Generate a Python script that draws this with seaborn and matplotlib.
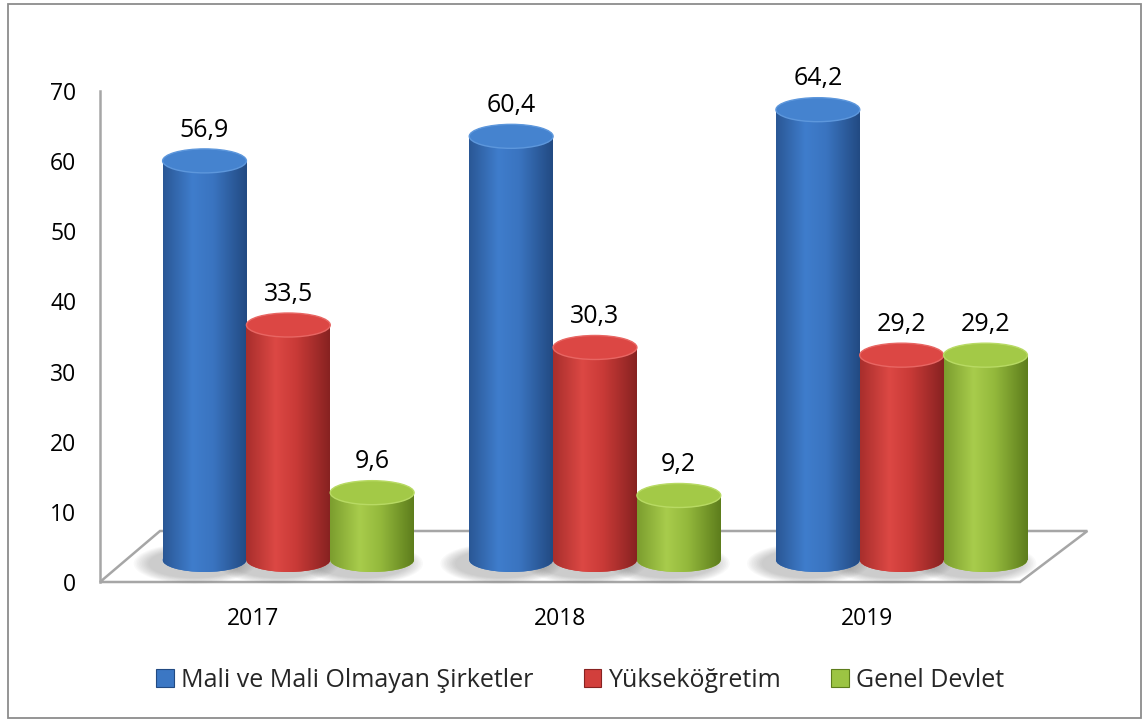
import numpy as np
import pandas as pd
import matplotlib
matplotlib.use("Agg")
import matplotlib.pyplot as plt
import seaborn as sns
from matplotlib.patches import Ellipse, Polygon, Rectangle, Patch
from matplotlib.transforms import ScaledTranslation
from matplotlib.colors import LinearSegmentedColormap

# ---- data ----
years = ["2017", "2018", "2019"]
series = ["Mali ve Mali Olmayan Şirketler", "Yükseköğretim", "Genel Devlet"]
sirketler = [56.9, 60.4, 64.2]
yuksekogretim = [33.5, 30.3, 29.2]
genel_devlet = [9.6, 9.2, 29.2]
yticks = [0, 10, 20, 30, 40, 50, 60, 70]

df = pd.DataFrame({
    "Yıl": years * 3,
    "Sektör": [s for s in series for _ in years],
    "Değer": sirketler + yuksekogretim + genel_devlet,
})

# ---- style ----
sns.set_theme(style="white")
plt.rcParams["font.family"] = ["Open Sans", "DejaVu Sans"]

mid_colors = ["#3b77c4", "#d23f3c", "#9cc443"]
grad_stops = [
    ["#2a5795", "#3f7dcc", "#3a74c0", "#224a82"],
    ["#a82e2c", "#dc4844", "#c93a37", "#872221"],
    ["#7b9d2e", "#a8cc4c", "#94b93c", "#5d7d1c"],
]
top_colors = ["#4583cf", "#dc4744", "#a3c947"]
top_edges = ["#5d97dc", "#e86663", "#b8da64"]
cmaps = [LinearSegmentedColormap.from_list(f"c{i}", list(zip([0, 0.35, 0.6, 1], g)))
         for i, g in enumerate(grad_stops)]

W, H, DPI = 1147, 722, 100
fig = plt.figure(figsize=(W / DPI, H / DPI), dpi=DPI)
ax = fig.add_axes([100 / W, 1 - 582 / H, 920 / W, 491 / H])

sns.barplot(data=df, x="Yıl", y="Değer", hue="Sektör", order=years,
            hue_order=series, palette=mid_colors, width=0.82, saturation=1,
            ax=ax, legend=False, edgecolor="none", linewidth=0, errorbar=None)

ax.set_xlim(-0.5, 2.5)
ax.set_ylim(0, 70)

px = 70 / 491.0           # data units per pixel (y)
eh = 24 * px              # ellipse height in data units
off = ax.transData + ScaledTranslation(35 / DPI, 22 / DPI, fig.dpi_scale_trans)
grad = np.linspace(0, 1, 256).reshape(1, -1)

for i, cont in enumerate(ax.containers):
    for bar in cont:
        x0, w, h = bar.get_x(), bar.get_width(), bar.get_height()
        xc = x0 + w / 2
        # soft floor shadow
        n = 10
        for k in range(n):
            f = k / (n - 1)
            sh = Ellipse((xc - 10 * w / 84, -0.5), w * (1.45 - 0.35 * f),
                         eh * (1.7 - 0.5 * f), transform=off,
                         facecolor="#7a7a7a", edgecolor="none", alpha=0.045,
                         zorder=1.5, clip_on=False)
            ax.add_patch(sh)
        # bottom ellipse
        bot = Ellipse((xc, 0), w, eh, transform=off, facecolor=mid_colors[i],
                      edgecolor="none", zorder=2.5, clip_on=False)
        ax.add_patch(bot)
        imb = ax.imshow(grad, cmap=cmaps[i], extent=(x0, x0 + w, -eh, eh),
                        aspect="auto", transform=off, zorder=2.6,
                        interpolation="bicubic")
        imb.set_clip_path(bot)
        imb.set_clip_box(fig.bbox)
        # body
        bar.set_transform(off)
        bar.set_zorder(3)
        bar.set_clip_on(False)
        imr = ax.imshow(grad, cmap=cmaps[i], extent=(x0, x0 + w, 0, h),
                        aspect="auto", transform=off, zorder=3.1,
                        interpolation="bicubic")
        imr.set_clip_path(bar)
        imr.set_clip_box(fig.bbox)
        # top ellipse
        top = Ellipse((xc, h), w, eh, transform=off, facecolor=top_colors[i],
                      edgecolor=top_edges[i], linewidth=1.0, zorder=3.5,
                      clip_on=False)
        ax.add_patch(top)
        # value label
        ax.text(xc, h + 4.4, f"{h:.1f}".replace(".", ","), transform=off,
                ha="center", va="center", fontsize=18, color="black", zorder=5)

ax.set_xlim(-0.5, 2.5)
ax.set_ylim(0, 70)
ax.set_yticks(yticks)
ax.set_yticklabels([str(v) for v in yticks])
ax.set_xlabel("")
ax.set_ylabel("")
ax.tick_params(axis="y", length=0, pad=17, labelsize=16.5, labelcolor="black")
ax.tick_params(axis="x", length=0, pad=18, labelsize=16.5, labelcolor="black")
for s in ["top", "right", "bottom"]:
    ax.spines[s].set_visible(False)
ax.spines["left"].set_color("#a6a6a6")
ax.spines["left"].set_linewidth(1.8)
ax.set_facecolor("none")

# floor
bx, by = 60 / 920, 51 / 491
floor = Polygon([(0, 0), (1.0, 0), (1.0 + bx + 0.008, by), (bx, by)], closed=True,
                transform=ax.transAxes, facecolor="white", edgecolor="#a6a6a6",
                linewidth=1.8, clip_on=False, zorder=1)
ax.add_patch(floor)

# legend
handles = [Patch(facecolor=mid_colors[i], edgecolor=grad_stops[i][3], linewidth=0.8)
           for i in range(3)]
fig.legend(handles, series, loc="center", bbox_to_anchor=(0.506, 0.058), ncol=3,
           frameon=False, fontsize=18, handlelength=0.7, handleheight=0.7,
           handletextpad=0.3, columnspacing=2.0)

# outer border
fig.add_artist(Rectangle((8 / W, 4 / H), (1141 - 8) / W, (718 - 4) / H,
                         transform=fig.transFigure, fill=False,
                         edgecolor="#8c8c8c", linewidth=1.3))

fig.savefig("out.png", dpi=DPI)
